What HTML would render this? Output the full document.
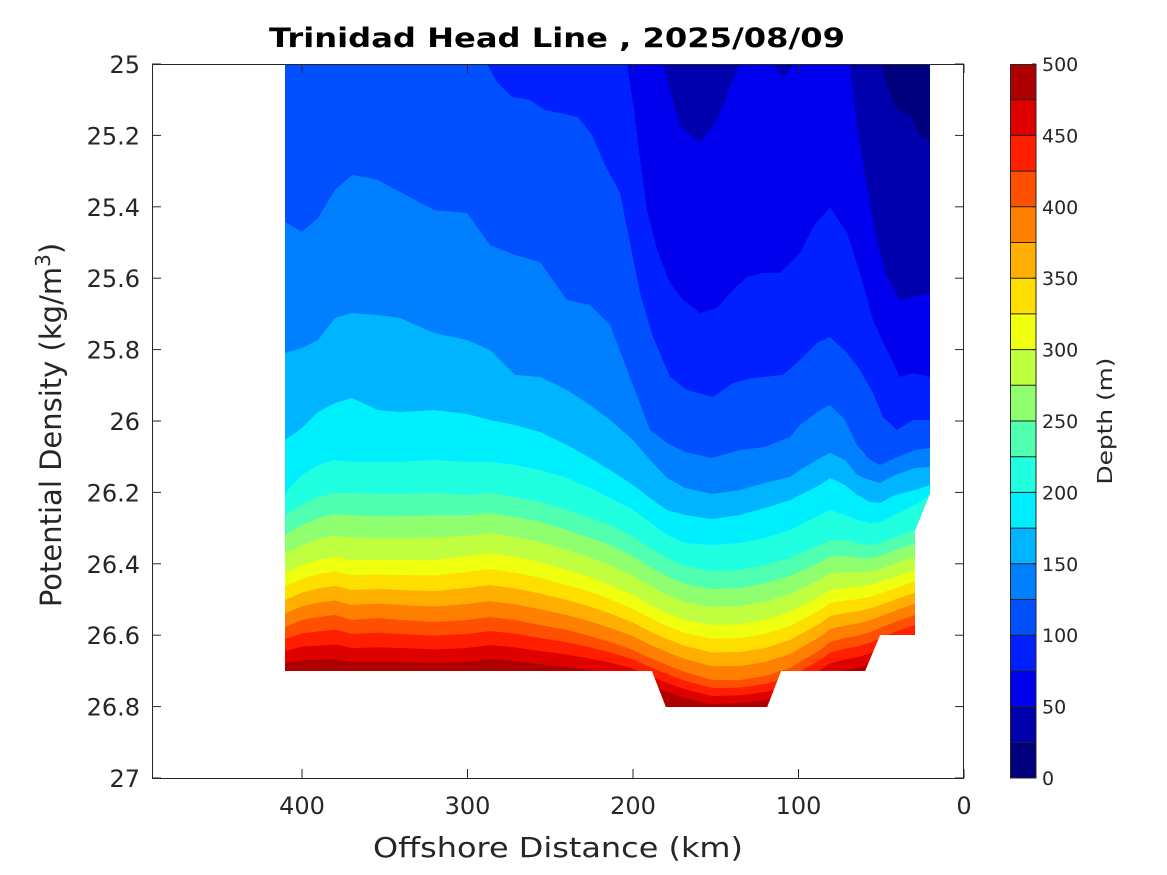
<!DOCTYPE html>
<html><head><meta charset="utf-8"><style>
body{margin:0;background:#fff}
svg{display:block}
text{font-family:"DejaVu Sans","Liberation Sans",sans-serif;fill:#262626}
</style></head><body>
<svg id="s" width="1167" height="875" viewBox="0 0 1167 875" xmlns="http://www.w3.org/2000/svg">
<defs><clipPath id="reg"><polygon points="285,64 930,64 930,493 915,530 915,635 880,635 865,671 781,671 767,707 666,707 652,671 285,671"/></clipPath></defs>
<g id="plot" clip-path="url(#reg)"></g>
<rect x="152.5" y="64.5" width="811" height="714" fill="none" stroke="#262626" stroke-width="1"/>
<g id="ticks" stroke="#262626" stroke-width="1"></g>
<text x="557" y="47" text-anchor="middle" font-size="27" font-weight="bold" textLength="576" lengthAdjust="spacingAndGlyphs" style="fill:#000">Trinidad Head Line , 2025/08/09</text>
<g font-size="24" text-anchor="end" id="ylab"></g>
<g font-size="24" text-anchor="middle" id="xlab"></g>
<text x="558" y="857" text-anchor="middle" font-size="28" textLength="370" lengthAdjust="spacingAndGlyphs">Offshore Distance (km)</text>
<text transform="translate(61,425) rotate(-90)" text-anchor="middle" font-size="29">Potential Density (kg/m<tspan dy="-11" font-size="20">3</tspan><tspan dy="11">)</tspan></text>
<g id="cbar"></g>
<text transform="translate(1112,421) rotate(-90)" text-anchor="middle" font-size="20" textLength="127" lengthAdjust="spacingAndGlyphs">Depth (m)</text>
</svg>
<script>
var C=["#00007F","#0000AF","#0000EF","#0020FF","#0050FF","#0080FF","#00B4FF","#00EFFF","#20FFDF","#50FFAF","#8FFF6F","#BFFF40","#EFFF10","#FFDF00","#FFAF00","#FF7F00","#FF4F00","#FF1F00","#DF0000","#AF0000"];
var NS="http://www.w3.org/2000/svg";
function el(t,a,p){var e=document.createElementNS(NS,t);for(var k in a)e.setAttribute(k,a[k]);(p||document.getElementById('plot')).appendChild(e);return e;}
function poly(pts,c){el('polygon',{points:pts.map(function(p){return p[0]+','+p[1]}).join(' '),fill:c});}
var xs=[285,302,318,335,352,378,400,434,467,490,515,540,567,590,610,633,650,667,685,712,740,765,790,800,820,830,845,857,870,880,895,915,930];
var L={
125:[222,232,218,190,175,180,192,210,213,245,255,262,300,305,325,385,430,443,452,458,450,447,437,425,410,405,420,445,460,465,458,450,448],
150:[353,348,340,318,313,315,318,333,340,350,375,377,390,405,420,440,460,478,488,494,490,483,477,470,458,453,460,475,480,483,475,468,467],
175:[440,428,412,403,398,410,412,410,414,420,425,432,445,458,470,485,498,510,515,519,515,508,500,495,485,478,485,495,502,503,495,490,485],
200:[493,475,465,460,462,462,462,460,462,462,465,470,478,488,498,510,522,535,543,545,543,538,530,525,515,510,515,520,523,522,515,505,495],
225:[515,505,497,493,493,494,494,493,495,493,497,502,510,518,525,537,548,558,566,571,570,565,558,553,545,540,540,543,545,543,537,530,520],
300:[573,565,560,557,560,560,560,560,556,553,557,562,570,577,585,595,605,613,620,625,624,620,612,607,597,590,588,587,585,582,577,570,565],
400:[627,620,617,615,620,618,620,622,620,617,620,625,630,636,642,650,658,665,672,680,680,676,668,662,650,642,638,636,632,628,622,615,612],
475:[663,660,660,659,662,662,662,663,662,659,661,664,667,670,673,678,685,692,698,704,703,700,695,690,680,674,670,668,664,660,652,645,640]};
function interp(a,b,f){return a.map(function(v,i){return v+(b[i]-v)*f;});}
[250,275].forEach(function(l){L[l]=interp(L[225],L[300],(l-225)/75);});
[325,350,375].forEach(function(l){L[l]=interp(L[300],L[400],(l-300)/100);});
[425,450].forEach(function(l){L[l]=interp(L[400],L[475],(l-400)/75);});
poly([[280,60],[940,60],[940,800],[280,800]],C[3]);
var l75=[[627,60],[627,64],[634,110],[640,160],[647,210],[657,250],[670,283],[683,300],[700,313],[717,308],[733,290],[747,277],[763,273],[780,273],[800,253],[813,227],[830,207],[847,233],[860,273],[873,320],[887,350],[900,377],[913,373],[930,377],[940,377],[940,60]];
poly(l75,C[2]);
poly([[663,60],[663,64],[680,127],[700,143],[717,120],[730,87],[740,64],[740,60]],C[1]);
poly([[770,60],[783,78],[796,60]],C[1]);
poly([[849,60],[850,67],[857,127],[867,187],[877,243],[887,277],[900,300],[913,297],[930,293],[940,293],[940,60]],C[1]);
poly([[880,60],[887,87],[897,110],[910,115],[920,137],[930,140],[940,140],[940,60]],C[0]);
var l100=[[280,60],[487,60],[487,64],[497,82],[512,97],[530,100],[545,110],[560,113],[578,117],[592,135],[605,165],[620,193],[640,293],[653,337],[670,377],[687,390],[713,397],[733,383],[753,378],[783,375],[800,360],[817,343],[830,337],[847,353],[860,370],[873,393],[883,417],[897,430],[913,420],[930,420],[940,420],[940,800],[280,800]];
poly(l100,C[4]);
for(var lv=125,ci=5;lv<=475;lv+=25,ci++){
 var a=L[lv],pts=[[280,a[0]]];
 for(var i=0;i<xs.length;i++)pts.push([xs[i],a[i]]);
 pts.push([940,a[a.length-1]],[940,800],[280,800]);
 poly(pts,C[ci]);
}
var tg=document.getElementById('ticks'),yl=document.getElementById('ylab'),xl=document.getElementById('xlab');
for(var k=0;k<=10;k++){var y=64+k*71.4;
 el('line',{x1:152,y1:y,x2:161,y2:y},tg);el('line',{x1:964,y1:y,x2:955,y2:y},tg);
 var t=el('text',{x:140,y:y+9},yl);t.textContent=(25+k*0.2).toFixed(k%5==0?0:1).replace(/\.0$/,'');}
for(var k=0;k<=4;k++){var x=964-k*165.5;
 el('line',{x1:x,y1:778,x2:x,y2:769},tg);el('line',{x1:x,y1:64,x2:x,y2:73},tg);
 var t=el('text',{x:x,y:814},xl);t.textContent=String(k*100);}
var cb=document.getElementById('cbar');
for(var i=0;i<20;i++){el('rect',{x:1010,y:778-(i+1)*35.7,width:26,height:35.7,fill:C[i]},cb);}
for(var i=1;i<20;i++){var y=778-i*35.7;el('line',{x1:1010,y1:y,x2:1036,y2:y,stroke:'#222','stroke-width':1},cb);}
el('rect',{x:1010.5,y:64.5,width:25.5,height:713.5,fill:'none',stroke:'#262626','stroke-width':1},cb);
for(var i=0;i<=10;i++){var y=778-i*71.4;el('line',{x1:1036,y1:y,x2:1032,y2:y,stroke:'#262626'},cb);
 var t=el('text',{x:1042,y:y+7,'font-size':19},cb);t.textContent=String(i*50);}
</script>
</body></html>
